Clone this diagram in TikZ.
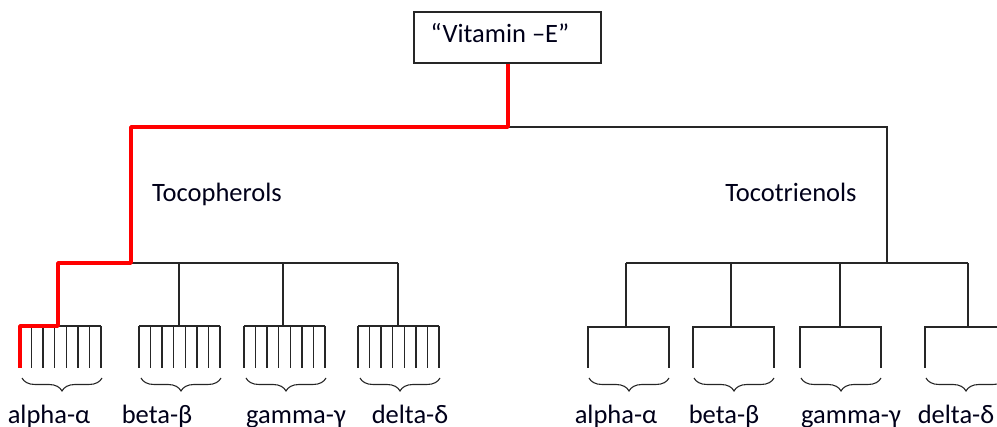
\documentclass[tikz,border=0pt]{standalone}
\usepackage{fontspec}
\setmainfont{Carlito}
\usetikzlibrary{decorations.pathreplacing}
\begin{document}
\begin{tikzpicture}[x=1pt,y=-1pt,
  conn/.style={draw=black!85, line width=1.4pt},
  redline/.style={draw=red, line width=3.8pt, line join=round},
  lbl/.style={font=\fontsize{26.5}{30}\selectfont, text=black!90!blue, inner sep=0pt, anchor=base},
  topbox/.style={draw=black!85, line width=1.3pt, minimum width=187pt, minimum height=51pt, inner sep=0pt},
  curly/.style={draw=black!85, line width=1.1pt, decorate, decoration={brace, amplitude=13pt, mirror}}]
\useasboundingbox (0,0) rectangle (997,427);
% top node
\node[topbox] (vit) at (507.5,37.5) {};
\node[lbl] (vitt) at (500,43) {“Vitamin –E”};
% junctions
\coordinate (j0) at (508,127);
\coordinate (jl) at (131,127);
\coordinate (jr) at (887,127);
\coordinate (tl) at (131,263);
\coordinate (tr) at (887,263);
% labels
\node[lbl] (toco) at (217,202) {Tocopherols};
\node[lbl] (tri) at (791,202) {Tocotrienols};
% black connectors
\draw[conn] (j0) -- (jr) -- (tr);
\draw[conn] (tl) -- (398,263);
\draw[conn] (626,263) -- (968,263);
% left groups: comb
\foreach \n/\xl/\xm in {a/20/58, b/139/179, g/244/283, d/358/398}{
  \coordinate (c\n) at (\xm,326);
  \draw[conn] (\xl,326) -- ++(81,0);
  \foreach \k in {0,...,7}{
    \draw[conn] (\xl+\k*11.57,326) -- (\xl+\k*11.57,368);
  }
}
\draw[conn] (179,263) -- (cb);
\draw[conn] (283,263) -- (cg);
\draw[conn] (398,263) -- (cd);
% right groups: open boxes
\foreach \n/\xl/\xm in {a/588/626, b/693/731, g/800/840, d/925/968}{
  \coordinate (r\n) at (\xm,263);
  \draw[conn] (\xl,368) -- (\xl,327) -- ++(81,0) -- ++(0,41);
  \draw[conn] (r\n) -- (\xm,327);
}
% braces
\foreach \xl in {22,141,246,360,589,694,801,926}{
  \draw[curly] (\xl,378) -- (\xl+80,378);
}
% bottom labels
\node[lbl] (la) at (49,424) {alpha-α};
\node[lbl] (lb) at (157,424) {beta-β};
\node[lbl] (lg) at (296,424) {gamma-γ};
\node[lbl] (ld) at (410,424) {delta-δ};
\node[lbl] (ra) at (616,424) {alpha-α};
\node[lbl] (rb) at (724,424) {beta-β};
\node[lbl] (rg) at (851,424) {gamma-γ};
\node[lbl] (rd) at (956,424) {delta-δ};
% red path
\draw[redline] (vit.south -| j0) -- (j0) -- (jl) -- (tl) -- (58,263) -- (ca) -- (20,326) -- (20,368);
\end{tikzpicture}
\end{document}
